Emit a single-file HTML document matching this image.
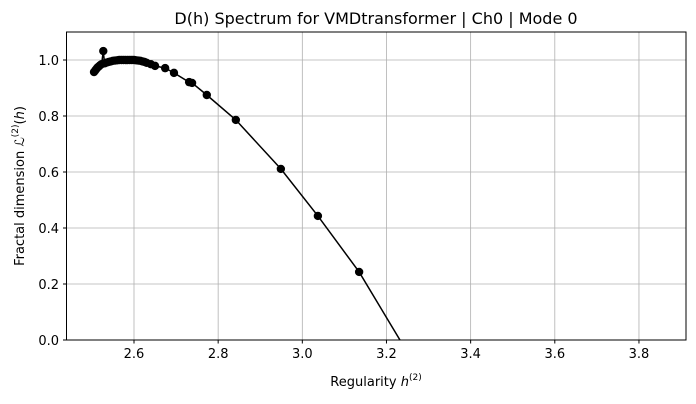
<!DOCTYPE html>
<html><head><meta charset="utf-8"><style>
body{margin:0;background:#fff;font-family:"DejaVu Sans","Liberation Sans",sans-serif}
svg text{font-family:"DejaVu Sans","Liberation Sans",sans-serif;fill:#000}
</style></head><body>
<svg id="chart" width="696" height="400" xmlns="http://www.w3.org/2000/svg">
<rect width="696" height="400" fill="#fff"/>
<g id="grid"></g>
<g id="series" clip-path="url(#clip)"></g>
<defs><clipPath id="clip"><rect x="66.5" y="32" width="619.5" height="308"/></clipPath></defs>
<rect x="66.5" y="32" width="619.5" height="308" fill="none" stroke="#000" stroke-width="1"/>
<g id="ticks"></g>
<text x="376" y="24" text-anchor="middle" font-size="16">D(h) Spectrum for VMDtransformer | Ch0 | Mode 0</text>
<text x="376" y="386" text-anchor="middle" font-size="13">Regularity <tspan font-style="italic">h</tspan><tspan font-size="9" dy="-6">(2)</tspan></text>
<text transform="translate(24,186) rotate(-90)" text-anchor="middle" font-size="13">Fractal dimension <tspan font-style="italic">ℒ</tspan><tspan font-size="9" dy="-6">(2)</tspan><tspan dy="6">(</tspan><tspan font-style="italic">h</tspan>)</text>
</svg>
<script>
const hValues=[2.505,2.508,2.511,2.514,2.517,2.52,2.523,2.527,2.53,2.535,2.54,2.545,2.55,2.555,2.56,2.565,2.57,2.575,2.58,2.585,2.59,2.595,2.6,2.605,2.61,2.615,2.62,2.625,2.63,2.64,2.65,2.674,2.695,2.731,2.738,2.773,2.842,2.949,3.037,3.135,3.26];
const dValues=[0.957,0.963,0.969,0.974,0.978,0.982,0.985,1.032,0.988,0.991,0.993,0.995,0.997,0.998,0.999,1.0,1.0,1.0,1.0,1.0,1.0,1.0,1.0,0.999,0.998,0.997,0.995,0.993,0.99,0.985,0.979,0.971,0.954,0.921,0.918,0.875,0.786,0.611,0.443,0.243,-0.07];
const xTicks=[2.6,2.8,3.0,3.2,3.4,3.6,3.8];
const xTickLabels=["2.6","2.8","3.0","3.2","3.4","3.6","3.8"];
const yTicks=[0,0.2,0.4,0.6,0.8,1.0];
const yTickLabels=["0.0","0.2","0.4","0.6","0.8","1.0"];
const X=v=>134+(v-2.6)*420.8, Y=v=>340-v*280;
const NS="http://www.w3.org/2000/svg";
const mk=(t,a,p)=>{const e=document.createElementNS(NS,t);for(const k in a)e.setAttribute(k,a[k]);p.appendChild(e);return e;};
const g=document.getElementById('grid'),tk=document.getElementById('ticks'),s=document.getElementById('series');
xTicks.forEach((v,i)=>{
 const l=mk('line',{x1:X(v),x2:X(v),y1:32,y2:340,stroke:'#b0b0b0','stroke-width':0.8},g);
 
 
 mk('line',{x1:X(v),x2:X(v),y1:340,y2:343.5,stroke:'#000'},tk);
 const t=mk('text',{x:X(v),y:358,'text-anchor':'middle','font-size':13},tk);t.textContent=xTickLabels[i];
 
 
});
yTicks.forEach((v,i)=>{
 const l=mk('line',{x1:66.5,x2:686,y1:Y(v),y2:Y(v),stroke:'#b0b0b0','stroke-width':0.8},g);
 
 
 mk('line',{x1:63,x2:66.5,y1:Y(v),y2:Y(v),stroke:'#000'},tk);
 const t=mk('text',{x:59,y:Y(v)+5,'text-anchor':'end','font-size':13},tk);t.textContent=yTickLabels[i];
 
 
});
const pl=mk('polyline',{points:hValues.map((h,i)=>X(h)+','+Y(dValues[i])).join(' '),fill:'none',stroke:'#000','stroke-width':1.5},s);


hValues.forEach((h,i)=>{
 const c=mk('circle',{cx:X(h),cy:Y(dValues[i]),r:4.2,fill:'#000'},s);
 
 
});
</script>
</body></html>
